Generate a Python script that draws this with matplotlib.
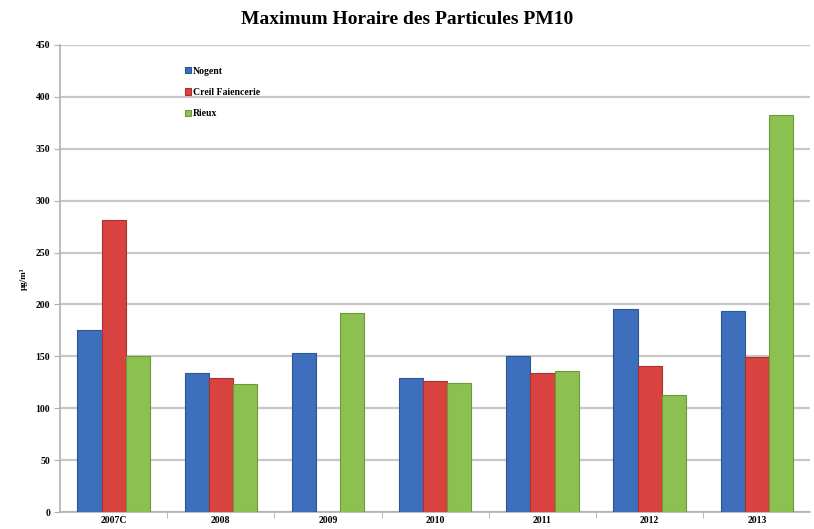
import matplotlib.pyplot as plt
import numpy as np

years = ['2007C', '2008', '2009', '2010', '2011', '2012', '2013']
nogent = [175, 134, 153, 129, 150, 196, 194]
creil = [281, 129, np.nan, 126, 134, 141, 149]
rieux = [150, 123, 192, 124, 136, 113, 383]
series = ['Nogent', 'Creil Faiencerie', 'Rieux']
colors = ['#3d6fbd', '#d9433f', '#8cc151']
edges = ['#2c5596', '#a83230', '#6a9a3a']

plt.rcParams['font.family'] = ['Liberation Serif', 'DejaVu Serif']

fig = plt.figure(figsize=(8.14, 5.29), dpi=100)
ax = fig.add_axes([0.0737, 0.032, 0.922, 0.883])

x = np.arange(len(years))
w = 0.225
for k, (vals, name) in enumerate(zip([nogent, creil, rieux], series)):
    ax.bar(x + (k - 1) * w, vals, w, color=colors[k], edgecolor=edges[k],
           linewidth=0.8, label=name, zorder=3)

ax.set_xlim(-0.5, len(years) - 0.5)
ax.set_ylim(0, 450)
ax.set_yticks(range(0, 451, 50))
ax.grid(axis='y', color='#c8c8c8', linewidth=1.6, zorder=0)
ax.set_xticks(x)
ax.set_xticklabels(years, fontsize=7, fontweight='bold')
ax.set_xticks(np.arange(0.5, len(years) - 0.5, 1), minor=True)
ax.tick_params(axis='x', which='major', length=0, pad=3)
ax.tick_params(axis='x', which='minor', length=4, color='#b0b0b0')
ax.tick_params(axis='y', length=4, color='#b0b0b0', labelsize=7, pad=3)
for t in ax.get_yticklabels():
    t.set_fontweight('bold')
for s in ['top', 'right']:
    ax.spines[s].set_visible(False)
for s in ['left', 'bottom']:
    ax.spines[s].set_color('#b0b0b0')
    ax.spines[s].set_linewidth(1.2)

ax.set_ylabel('µg/m³', fontsize=6.5, fontweight='bold', labelpad=6)

ax.legend(loc='upper left', bbox_to_anchor=(0.155, 0.972), frameon=False,
          prop={'size': 7, 'weight': 'bold'}, handlelength=0.6, handleheight=0.6,
          handletextpad=0.2, labelspacing=1.25)

fig.suptitle('Maximum Horaire des Particules PM10', fontsize=14,
             fontweight='bold', y=0.98)

fig.savefig('out.png', dpi=100)
